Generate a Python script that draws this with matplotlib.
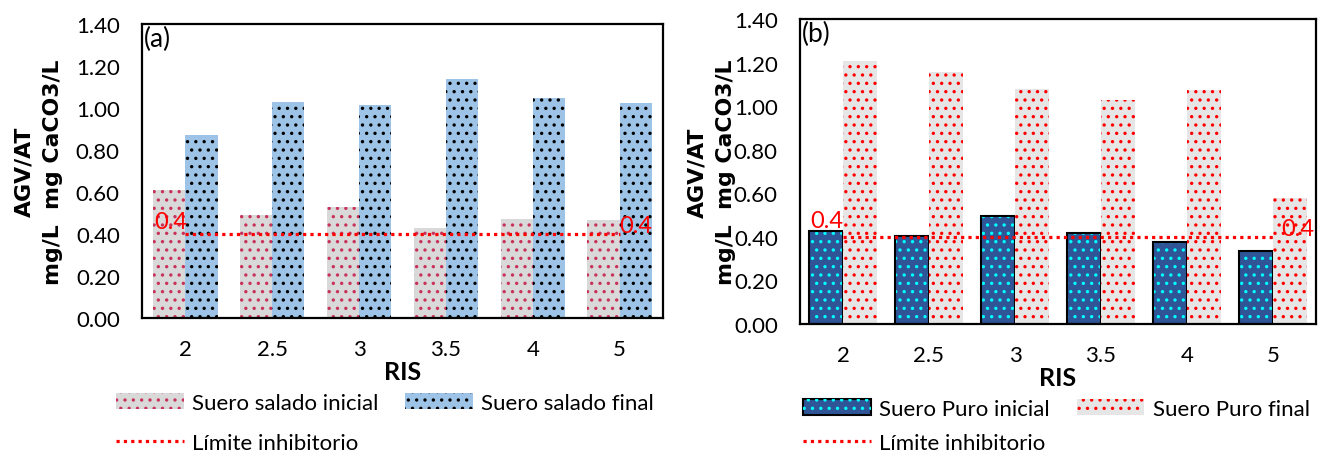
import numpy as np
import matplotlib
matplotlib.use("Agg")
import matplotlib.pyplot as plt
import matplotlib.patches as mpatches

plt.rcParams["font.family"] = ["Lato", "DejaVu Sans"]
plt.rcParams["hatch.linewidth"] = 1.2

ris = ["2", "2.5", "3", "3.5", "4", "5"]
salado_inicial = [0.61, 0.49, 0.53, 0.43, 0.47, 0.465]
salado_final = [0.87, 1.03, 1.015, 1.14, 1.05, 1.025]
puro_inicial = [0.425, 0.405, 0.495, 0.42, 0.375, 0.335]
puro_final = [1.205, 1.155, 1.08, 1.03, 1.075, 0.58]
limite = [0.4] * 6

W, H = 1318, 456
fig = plt.figure(figsize=(W / 100, H / 100), dpi=100)

def px_axes(x0, y0, x1, y1):
    return fig.add_axes([x0 / W, 1 - y1 / H, (x1 - x0) / W, (y1 - y0) / H])

ax1 = px_axes(142, 25, 663, 319)
ax2 = px_axes(800, 20, 1316, 325)

x = np.arange(len(ris))
w = 0.37
w2 = 0.4


def style(ax, tag, label_x):
    ax.set_xlim(-0.5, 5.5)
    ax.set_ylim(0, 1.4)
    ax.set_yticks(np.arange(0, 1.41, 0.2))
    ax.set_yticklabels(["%.2f" % v for v in np.arange(0, 1.41, 0.2)])
    ax.set_xticks(x)
    ax.set_xticklabels(ris)
    ax.tick_params(axis="y", length=0, pad=16, labelsize=16)
    ax.tick_params(axis="x", length=0, pad=15, labelsize=16)
    for s in ax.spines.values():
        s.set_linewidth(1.6)
    ax.set_xlabel("RIS", fontsize=18, fontweight="bold", labelpad=1)
    ax.set_ylabel("AGV/AT\nmg/L  mg CaCO3/L", fontsize=15.8, fontweight="bold",
                  linespacing=1.55, family="DejaVu Sans")
    ax.yaxis.set_label_coords(label_x, 0.5)
    ax.text(0.003, 0.995, tag, transform=ax.transAxes, ha="left", va="top",
            fontsize=19)


leg_kw = dict(ncol=2, loc="upper left", frameon=False, fontsize=16,
              handlelength=3.05, handleheight=0.75, handletextpad=0.38,
              columnspacing=1.2, borderpad=0, borderaxespad=0)

# (a) suero salado
b1 = ax1.bar(x - w / 2, salado_inicial, w, color="#d9d9d9", edgecolor="#c8325a",
             hatch="..", linewidth=0, label="Suero salado inicial")
b2 = ax1.bar(x + w / 2, salado_final, w, color="#9dc3e6", edgecolor="black",
             hatch="..", linewidth=0, label="Suero salado final")
l1, = ax1.plot(x, limite, color="red", linestyle=(0, (1, 1.3)), linewidth=2.3,
               label="Límite inhibitorio")
ax1.text(x[0] + 0.02, 0.41, "0.4", color="red", fontsize=17, ha="right", va="bottom")
ax1.text(x[-1], 0.39, "0.4", color="red", fontsize=17, ha="left", va="bottom")
style(ax1, "(a)", -0.152)
fig.legend([b1, l1, b2], ["Suero salado inicial", "Límite inhibitorio", "Suero salado final"],
           bbox_to_anchor=(116 / W, 1 - 394 / H), labelspacing=0.9, **leg_kw)

# (b) suero puro
b3 = ax2.bar(x - w2 / 2, puro_inicial, w2, color="#2f5597", edgecolor="#00ffff",
             hatch="..", linewidth=0, label="Suero Puro inicial")
ax2.bar(x - w2 / 2, puro_inicial, w2, fill=False, edgecolor="black", linewidth=1.5)
b4 = ax2.bar(x + w2 / 2, puro_final, w2, color="#e7e6e6", edgecolor="red",
             hatch="..", linewidth=0, label="Suero Puro final")
l2, = ax2.plot(x, limite, color="red", linestyle=(0, (1, 1.3)), linewidth=2.3,
               label="Límite inhibitorio")
ax2.text(x[0], 0.425, "0.4", color="red", fontsize=17, ha="right", va="bottom")
ax2.text(x[-1] + 0.1, 0.39, "0.4", color="red", fontsize=17, ha="left", va="bottom")
style(ax2, "(b)", -0.124)

# legend handle for inicial with black outline
h3 = mpatches.Patch(facecolor="#2f5597", edgecolor="black", linewidth=1.5)
h3c = mpatches.Patch(facecolor="none", edgecolor="#00ffff", hatch="..", linewidth=0)
fig.legend([(h3, h3c), l2, b4], ["Suero Puro inicial", "Límite inhibitorio", "Suero Puro final"],
           bbox_to_anchor=(803 / W, 1 - 400 / H), labelspacing=0.62, **leg_kw)

fig.savefig("out.png", dpi=100)
